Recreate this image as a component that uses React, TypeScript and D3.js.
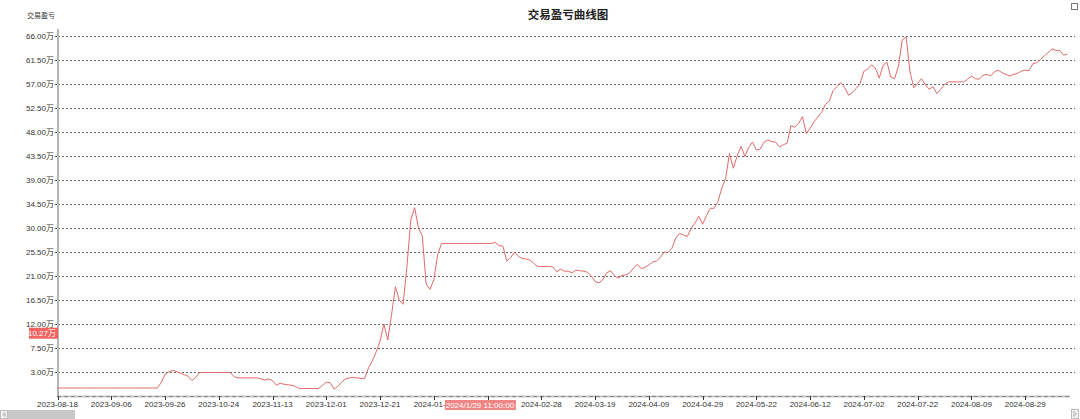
import React from "react";
import * as d3 from "d3";

// profit values (万), one per trading day starting 2023-08-18
const profit: number[] = [
  0, 0, 0, 0, 0, 0, 0, 0, 0, 0,
  0, 0, 0, 0, 0, 0, 0, 0, 0, 0,
  0, 0, 0, 0, 0, 0, 0, 1.0, 2.6, 3.0,
  3.3, 3.1, 2.8, 2.5, 2.2, 1.4, 2.0, 2.9, 2.9, 2.9,
  2.9, 2.9, 2.9, 2.9, 2.9, 2.9, 2.1, 1.9, 1.9, 1.9,
  1.9, 1.9, 1.9, 1.7, 1.5, 1.7, 1.4, 0.5, 0.9, 0.7,
  0.6, 0.5, 0.3, -0.1, -0.1, -0.1, -0.1, -0.1, -0.1, 0.5,
  1.1, 1.0, -0.2, 0.3, 1.1, 1.7, 1.9, 2.0, 1.9, 1.8,
  1.8, 3.8, 5.1, 6.8, 8.8, 12.0, 9.0, 13.8, 19.0, 16.5,
  15.7, 22.8, 31.5, 33.8, 30.0, 28.5, 19.5, 18.5, 20.3, 25.0,
  27.1, 27.1, 27.1, 27.1, 27.1, 27.1, 27.1, 27.1, 27.1, 27.1,
  27.1, 27.1, 27.1, 27.1, 27.3, 26.7, 26.6, 23.8, 24.4, 25.5,
  24.7, 24.3, 24.2, 24.0, 23.4, 22.8, 22.8, 22.8, 22.8, 22.7,
  21.8, 22.3, 21.9, 21.9, 21.6, 22.1, 22.0, 21.9, 21.7, 21.0,
  20.0, 19.7, 20.3, 21.6, 22.0, 21.1, 20.6, 21.1, 21.2, 21.6,
  22.5, 23.2, 22.4, 22.6, 23.1, 23.6, 23.8, 24.5, 25.5, 25.4,
  26.2, 28.1, 29.0, 28.7, 28.4, 29.9, 30.9, 32.2, 30.7, 32.3,
  33.7, 33.7, 35.0, 37.5, 39.3, 44.0, 41.2, 43.5, 45.3, 43.4,
  45.1, 46.1, 44.6, 44.8, 46.1, 46.5, 46.2, 46.1, 45.2, 45.6,
  45.9, 49.2, 48.9, 49.6, 50.9, 47.7, 48.7, 49.9, 50.8, 51.7,
  53.2, 53.8, 55.8, 56.5, 57.3, 56.3, 54.9, 55.4, 56.2, 57.1,
  59.4, 59.8, 60.6, 60.0, 58.1, 60.5, 61.1, 58.3, 58.0, 60.4,
  65.3, 65.8, 59.3, 56.3, 57.1, 58.0, 56.9, 56.0, 56.5, 55.2,
  56.0, 56.9, 57.4, 57.4, 57.4, 57.4, 57.4, 57.9, 58.5, 58.0,
  57.9, 58.6, 58.8, 58.5, 59.3, 59.6, 59.1, 58.8, 58.5, 58.8,
  59.0, 59.4, 59.6, 59.5, 60.8, 61.0, 61.6, 62.3, 62.9, 63.6,
  63.3, 63.3, 62.4, 62.6,
];

const xTickLabels: string[] = [
  "2023-08-18", "2023-09-06", "2023-09-26", "2023-10-24", "2023-11-13",
  "2023-12-01", "2023-12-21", "2024-01-11", "2024-01-31", "2024-02-28",
  "2024-03-19", "2024-04-09", "2024-04-29", "2024-05-22", "2024-06-12",
  "2024-07-02", "2024-07-22", "2024-08-09", "2024-08-29",
];
const xTickStep = 14;

const yTicks: number[] = [3, 7.5, 12, 16.5, 21, 25.5, 30, 34.5, 39, 43.5, 48, 52.5, 57, 61.5, 66];

const title = "交易盈亏曲线图";
const yTitle = "交易盈亏";
const crossIndex = 110;
const crossTimeLabel = "2024/1/29 11:00:00";
const crossValue = 10.27;

const W = 1080;
const H = 419;
const FONT = "'Liberation Sans', 'Noto Sans CJK SC', sans-serif";
const CJK = "'Noto Sans CJK SC', sans-serif";

export default function App() {
  const left = 58;
  const right = 1075;
  const x = d3
    .scalePoint<number>()
    .domain(profit.map((_, i) => i))
    .range([57.5, 57.5 + 3.84 * (profit.length - 1)]);
  const y = d3.scaleLinear().domain([-1.5, 67.5]).range([396, 28]);
  const line = d3
    .line<number>()
    .x((_, i) => x(i) as number)
    .y((d) => y(d));

  const crossX = x(crossIndex) as number;
  const crossY = y(crossValue);
  const boxL = crossX - 35;
  const boxR = crossX + 36;

  return (
    <svg
      width={W}
      height={H}
      style={{ position: "absolute", left: 0, top: 0, background: "#fff" }}
      fontFamily={FONT}
    >
      <rect x={0} y={0} width={W} height={H} fill="#fff" />
      {/* title */}
      <text x={568} y={19} textAnchor="middle" fontFamily={CJK} fontWeight="bold" fontSize={11.5} fill="#222">
        {title}
      </text>
      <text x={27} y={18} fontFamily={CJK} fontSize={7} fill="#333">
        {yTitle}
      </text>
      {/* top-right box */}
      <rect x={1071.5} y={3.5} width={6} height={6} fill="none" stroke="#777" strokeWidth={1} />

      {/* grid + y labels */}
      {yTicks.map((t) => (
        <g key={t}>
          <line x1={left} x2={right} y1={Math.round(y(t)) + 0.5} y2={Math.round(y(t)) + 0.5} stroke="#666" strokeDasharray="2,2" strokeWidth={1} />
          <line x1={55} x2={left} y1={Math.round(y(t)) + 0.5} y2={Math.round(y(t)) + 0.5} stroke="#555" />
          <text x={54} y={y(t) + 3} textAnchor="end" fontSize={8} fill="#333">
            {t.toFixed(2)}
            <tspan fontFamily={CJK}>万</tspan>
          </text>
        </g>
      ))}

      {/* y axis line */}
      <line x1={58} x2={58} y1={29} y2={396} stroke="#b5b5b5" strokeWidth={2} />
      {/* x axis line */}
      <line x1={57} x2={1070} y1={396.5} y2={396.5} stroke="#c8c8c8" strokeWidth={2} />
      <line x1={57} x2={1070} y1={396.5} y2={396.5} stroke="#888" strokeWidth={1} strokeDasharray="4,3" />

      {/* x ticks */}
      {xTickLabels.map((lab, k) => {
        const xp = x(k * xTickStep) as number;
        const hidden = xp > boxL && xp < boxR;
        return (
          <g key={lab}>
            <line x1={Math.round(xp) + 0.5} x2={Math.round(xp) + 0.5} y1={396} y2={400} stroke="#333" />
            {!hidden && (
              <text x={xp} y={407} textAnchor="middle" fontSize={8} fill="#333">
                {lab}
              </text>
            )}
          </g>
        );
      })}

      {/* series */}
      <path d={line(profit) || ""} fill="none" stroke="#e06a6a" strokeWidth={1} strokeLinejoin="round" />

      {/* crosshair labels */}
      <rect x={29} y={crossY - 5.5} width={29} height={11} fill="#f26363" />
      <text x={56} y={crossY + 3} textAnchor="end" fontSize={8} fill="#fff">
        {crossValue.toFixed(2)}
        <tspan fontFamily={CJK}>万</tspan>
      </text>
      <rect x={boxL} y={400} width={boxR - boxL} height={10} fill="#f08585" />
      <text x={crossX} y={408} textAnchor="middle" fontSize={8} fill="#fff">
        {crossTimeLabel}
      </text>

      {/* scrollbar */}
      <rect x={0} y={410} width={W} height={9} fill="#fff" />
      <rect x={0.5} y={410.5} width={7} height={8} fill="#f4f4f4" stroke="#bbb" />
      <path d="M5,412.5 L2.5,414.5 L5,416.5 Z" fill="#fff" stroke="#999" strokeWidth={0.8} />
      <rect x={8} y={410} width={67} height={9} fill="#c8c8c8" />
      <rect x={1071.5} y={409.5} width={7} height={9} fill="#f4f4f4" stroke="#bbb" />
      <path d="M1074,411.5 L1076.5,414 L1074,416.5 Z" fill="#fff" stroke="#999" strokeWidth={0.8} />
    </svg>
  );
}
